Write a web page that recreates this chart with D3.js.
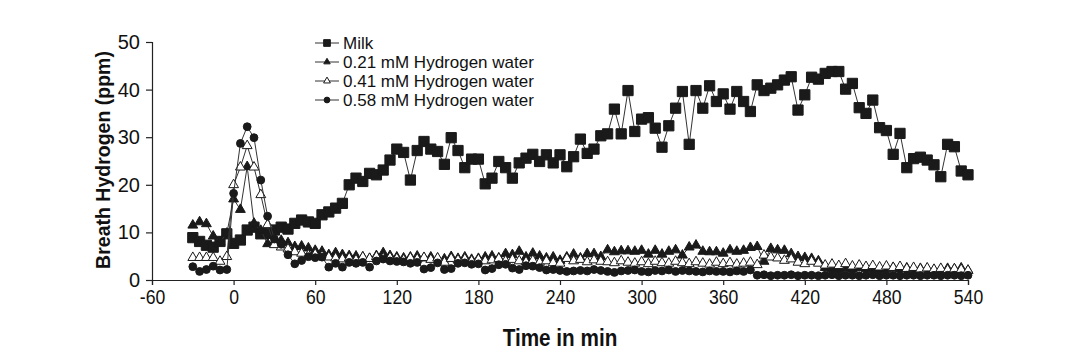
<!DOCTYPE html>
<html>
<head>
<meta charset="utf-8">
<script src="https://cdn.jsdelivr.net/npm/d3@7"></script>
<style>
  html, body { margin: 0; padding: 0; background: #fff; }
  svg { display: block; }
  text { font-family: "Liberation Sans", Arial, sans-serif; fill: #111; }
</style>
</head>
<body>
<svg id="chart" width="1080" height="357"></svg>
<script>
// ---- data ----
const times = [-30,-25,-20,-15,-10,-5,0,5,10,15,20,25,30,35,40,45,50,55,60,65,70,75,80,85,90,95,100,105,110,115,120,125,130,135,140,145,150,155,160,165,170,175,180,185,190,195,200,205,210,215,220,225,230,235,240,245,250,255,260,265,270,275,280,285,290,295,300,305,310,315,320,325,330,335,340,345,350,355,360,365,370,375,380,385,390,395,400,405,410,415,420,425,430,435,440,445,450,455,460,465,470,475,480,485,490,495,500,505,510,515,520,525,530,535,540];

const milk = [8.9,8.1,7.3,6.9,8.1,9.7,7.7,8.4,10.5,11.1,9.7,9.8,10.5,11.1,10.7,11.9,12.6,12.2,11.9,13.7,14.3,15.1,16.1,20.0,21.4,20.7,22.4,22.1,23.1,25.2,27.5,26.8,21.0,27.2,29.1,27.5,27.0,24.3,29.9,27.2,23.6,25.4,25.4,20.2,21.4,24.9,23.6,21.4,24.6,25.6,26.4,24.9,26.3,24.6,26.3,23.8,25.9,29.6,26.6,27.5,30.3,30.7,35.9,30.7,39.8,31.2,33.8,34.1,31.9,27.9,32.4,36.1,39.6,28.5,39.8,36.1,40.8,37.5,39.1,35.9,39.6,37.5,35.4,41.0,39.8,40.3,41.0,42.0,42.7,35.7,38.9,42.6,42.2,43.4,43.8,43.8,40.1,41.3,36.2,35.0,37.8,32.0,31.4,26.4,30.8,23.6,25.5,25.8,25.2,24.2,21.7,28.5,28.0,22.9,22.1];

const h021 = [11.5,12.2,11.8,9.2,8.0,9.8,17.0,14.8,23.8,11.9,10.4,7.6,8.1,8.3,7.8,7.0,7.1,6.7,6.2,6.0,5.3,5.7,5.3,5.1,5.0,4.8,4.5,5.1,5.7,5.1,4.8,4.6,4.8,5.0,4.6,4.8,4.5,4.4,4.9,4.5,4.8,4.3,4.5,4.8,5.0,4.6,5.5,5.3,6.0,4.8,5.6,5.0,4.6,4.8,4.1,4.8,5.4,4.6,5.5,5.5,4.9,6.3,5.9,6.1,6.1,6.0,6.2,5.4,6.2,5.4,6.0,6.3,5.2,6.9,7.3,6.0,5.9,5.9,5.6,6.3,6.0,6.2,6.8,7.0,3.9,6.6,6.3,6.2,5.5,4.9,4.7,4.5,4.0,2.6,2.4,2.2,2.5,2.3,2.6,2.4,2.5,2.2,2.4,2.6,2.3,2.5,2.2,2.4,2.3,2.1,2.2,2.4,2.3,2.5,2.0];

const h041 = [4.7,4.7,4.7,4.7,3.9,4.9,20.0,23.7,28.2,23.7,17.9,11.6,7.4,6.9,6.5,5.9,5.6,5.2,5.4,5.0,4.8,4.6,4.4,4.6,4.2,4.8,4.5,4.9,4.6,4.7,4.5,4.2,4.6,4.4,4.7,4.3,4.6,3.7,4.5,4.2,4.4,4.0,4.3,4.0,4.2,4.5,4.0,4.3,4.0,3.8,4.1,3.7,4.0,3.6,3.5,4.5,4.0,4.3,3.8,4.2,3.9,3.8,3.6,4.0,3.7,3.5,3.8,3.4,3.9,3.6,3.5,3.9,3.6,3.4,3.8,3.5,3.3,3.7,3.4,3.6,3.3,3.5,3.7,3.2,5.2,4.8,4.6,4.1,4.4,3.7,3.4,3.9,3.5,3.1,3.3,3.0,3.4,2.9,3.1,2.8,3.0,2.7,2.9,2.6,2.8,2.4,2.6,2.3,2.5,2.2,2.4,2.1,2.3,2.2,2.0];

const h058 = [2.8,1.8,2.2,2.9,2.1,2.2,18.2,28.7,32.2,29.9,21.0,13.4,8.6,7.5,5.3,3.4,4.1,4.9,4.7,4.8,2.7,3.5,2.7,3.7,3.5,3.7,2.7,4.0,4.4,4.0,3.9,3.8,3.5,3.7,2.3,2.6,3.6,2.2,2.4,3.5,3.6,3.3,3.4,2.1,2.4,3.2,3.3,2.5,2.2,3.0,2.9,2.6,2.1,2.2,2.0,1.8,1.9,2.0,1.9,2.2,2.0,1.8,1.6,1.9,2.0,2.1,1.8,1.7,2.0,1.9,2.1,1.8,2.0,1.9,1.8,1.7,1.9,1.8,1.8,1.7,1.9,1.8,2.1,1.0,1.1,0.9,1.0,1.0,1.1,0.9,1.0,1.0,0.9,1.0,1.1,0.9,1.0,1.0,0.9,1.0,1.1,0.9,1.0,1.0,0.9,1.0,1.0,0.9,1.0,1.0,0.9,1.0,1.0,0.9,1.0];

const seriesNames = ["Milk", "0.21 mM Hydrogen water", "0.41 mM Hydrogen water", "0.58 mM Hydrogen water"];
const xTicks = [-60,0,60,120,180,240,300,360,420,480,540];
const yTicks = [0,10,20,30,40,50];
const xTitle = "Time in min";
const yTitle = "Breath Hydrogen (ppm)";

// ---- drawing ----
const svg = d3.select("#chart");
const x = d3.scaleLinear().domain([-60, 540]).range([152, 968]);
const y = d3.scaleLinear().domain([0, 50]).range([280, 42]);

const series = [
  { name: seriesNames[0], values: milk, symbol: d3.symbolSquare, size: 105, fill: "#1a1a1a", lsize: 45 },
  { name: seriesNames[1], values: h021, symbol: d3.symbolTriangle, size: 42, fill: "#1a1a1a", lsize: 18 },
  { name: seriesNames[2], values: h041, symbol: d3.symbolTriangle, size: 42, fill: "#fff", lsize: 20 },
  { name: seriesNames[3], values: h058, symbol: d3.symbolCircle, size: 48, fill: "#1a1a1a", lsize: 26 }
];

// axes
const xAxis = svg.append("g").attr("transform", "translate(0,280)")
  .call(d3.axisBottom(x).tickValues(xTicks).tickSize(5).tickPadding(4).tickFormat(d => String(d)));
xAxis.select(".domain").attr("stroke", "#222").attr("stroke-width", 1.2);
xAxis.selectAll(".tick line").attr("stroke", "#222").attr("stroke-width", 1.2);
xAxis.selectAll(".tick text")
  .style("font-size", "21px").attr("fill", "#111")
  .attr("transform", "scale(0.84,1)");

const yAxis = svg.append("g").attr("transform", "translate(152,0)")
  .call(d3.axisLeft(y).tickValues(yTicks).tickSize(6).tickPadding(6));
yAxis.select(".domain").attr("stroke", "#222").attr("stroke-width", 1.2);
yAxis.selectAll(".tick line").attr("stroke", "#222").attr("stroke-width", 1.2);
yAxis.selectAll(".tick text").style("font-size", "20px").attr("fill", "#111");

// axis titles
svg.append("text")
  .attr("transform", "translate(110,160) rotate(-90)")
  .attr("text-anchor", "middle")
  .style("font-size", "19.5px").style("font-weight", "bold")
  .text(yTitle);

svg.append("text")
  .attr("transform", "translate(560,346) scale(0.9,1)")
  .attr("text-anchor", "middle")
  .style("font-size", "23px").style("font-weight", "bold")
  .text(xTitle);

// series
const line = d3.line().x((d, i) => x(times[i])).y(d => y(d));
series.forEach(s => {
  const g = svg.append("g");
  g.append("path").datum(s.values)
    .attr("fill", "none").attr("stroke", "#333").attr("stroke-width", 1)
    .attr("d", line);
  g.selectAll("path.pt").data(s.values).enter().append("path")
    .attr("class", "pt")
    .attr("d", d3.symbol().type(s.symbol).size(s.size))
    .attr("transform", (d, i) => `translate(${x(times[i])},${y(d)})`)
    .attr("fill", s.fill).attr("stroke", "#1a1a1a").attr("stroke-width", 1);
});

// legend
const leg = svg.append("g").attr("transform", "translate(315,43)");
series.forEach((s, i) => {
  const row = leg.append("g").attr("transform", `translate(0,${i * 19})`);
  row.append("line").attr("x1", 0).attr("x2", 24).attr("y1", 0).attr("y2", 0)
    .attr("stroke", "#333").attr("stroke-width", 1);
  row.append("path").attr("d", d3.symbol().type(s.symbol).size(s.lsize))
    .attr("transform", "translate(12,0)")
    .attr("fill", s.fill).attr("stroke", "#1a1a1a").attr("stroke-width", 1);
  row.append("text").attr("x", 28).attr("y", 6)
    .style("font-size", "17px").text(s.name);
});
</script>
</body>
</html>
